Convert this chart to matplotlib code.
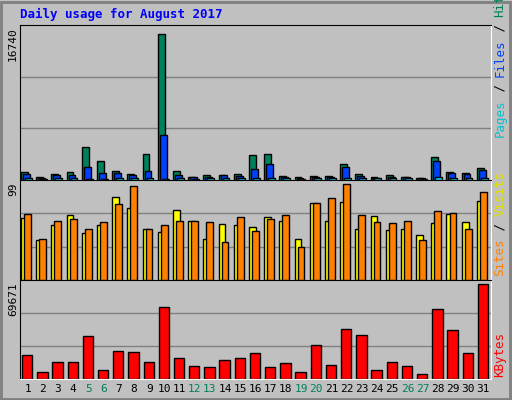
import matplotlib
matplotlib.use('Agg')
import matplotlib.pyplot as plt
import numpy as np

days = list(range(1, 32))
weekend = [5, 6, 12, 13, 19, 20, 26, 27]

hits = [947, 303, 720, 947, 3787, 2196, 1060, 720, 2992, 16740, 1060, 379, 606, 606, 720, 2878,
        2992, 492, 379, 492, 492, 1856, 720, 379, 606, 379, 265, 2651, 947, 833, 1401]
files = [682, 227, 568, 568, 1515, 833, 833, 568, 1060, 5150, 568, 303, 379, 606, 492, 1288,
         1856, 379, 265, 379, 379, 1515, 492, 265, 379, 379, 227, 2196, 833, 720, 1174]
pages = [190, 120, 190, 190, 150, 150, 190, 190, 190, 150, 190, 150, 190, 190, 190, 190,
         190, 190, 120, 190, 190, 190, 190, 190, 190, 190, 150, 380, 190, 190, 190]
visits = [64, 41, 57, 67, 48, 57, 85, 74, 53, 49, 72, 61, 42, 58, 57, 55,
          65, 61, 42, 79, 61, 80, 52, 66, 51, 53, 46, 59, 68, 60, 81]
sites = [68, 42, 61, 63, 53, 60, 78, 97, 52, 57, 61, 61, 60, 39, 65, 50,
         63, 67, 34, 79, 84, 99, 67, 60, 59, 61, 41, 71, 69, 53, 91]
kbytes = [17800, 4830, 12460, 12460, 31530, 6360, 20850, 20090, 12460, 52890, 15510, 9410, 8650,
          13990, 15510, 19330, 8650, 11700, 4830, 24670, 10170, 36870, 32300, 6360, 12460, 9410,
          3310, 51370, 36110, 19330, 69671]

W, H = 512, 400
bg = '#c0c0c0'
fig = plt.figure(figsize=(W / 100, H / 100), dpi=100, facecolor=bg)
mono = 'DejaVu Sans Mono'

# outer frame
fig.patches.append(plt.Rectangle((1 / W, 1 / H), 1 - 3 / W, 1 - 3 / H, transform=fig.transFigure,
                                 fill=False, edgecolor='#808080', lw=2))

def panel(top, bottom):
    ax = fig.add_axes([20 / W, 1 - bottom / H, (491 - 20) / W, (bottom - top) / H])
    ax.set_facecolor(bg)
    ax.set_xlim(0.5, 31.5)
    ax.set_xticks([])
    ax.set_yticks([])
    for s in ax.spines.values():
        s.set_color('black')
    ax.spines['right'].set_color('white')
    ax.spines['bottom'].set_color('white')
    return ax

x = np.array(days, dtype=float)
kw = dict(edgecolor='black', linewidth=1, align='edge')

# hits / files / pages
ax1 = panel(25, 180)
top1 = max(hits) * 1.06
ax1.set_ylim(0, top1)
for f in (1 / 3, 2 / 3):
    ax1.axhline(top1 * f, color='#808080', lw=1, zorder=0)
ax1.bar(x - 0.43, hits, 0.45, color='#00805c', **kw)
ax1.bar(x - 0.30, files, 0.45, color='#0040ff', **kw)
ax1.bar(x - 0.17, pages, 0.45, color='#00e0ff', **kw)
fig.text(8 / W, 1 - 27 / H, '16740', rotation=90, va='top', ha='left', fontsize=8, family=mono)

# visits / sites
ax2 = panel(180, 280)
top2 = max(sites) * 1.04
ax2.set_ylim(0, top2)
for f in (1 / 3, 2 / 3):
    ax2.axhline(top2 * f, color='#808080', lw=1, zorder=0)
ax2.bar(x - 0.43, visits, 0.45, color='#ffff00', **kw)
ax2.bar(x - 0.23, sites, 0.45, color='#ff8000', **kw)
fig.text(8 / W, 1 - 182 / H, '99', rotation=90, va='top', ha='left', fontsize=8, family=mono)

# kbytes
ax3 = panel(280, 379)
top3 = max(kbytes) * 1.04
ax3.set_ylim(0, top3)
for f in (1 / 3, 2 / 3):
    ax3.axhline(top3 * f, color='#808080', lw=1, zorder=0)
ax3.bar(x - 0.37, kbytes, 0.68, color='#ff0000', **kw)
fig.text(8 / W, 1 - 282 / H, '69671', rotation=90, va='top', ha='left', fontsize=8, family=mono)

# day labels
for d in days:
    xp = (20 + (d - 0.5) / 31 * 471) / W
    fig.text(xp, 1 - 389 / H, str(d), ha='center', va='center', fontsize=8, family=mono,
             color='#00805c' if d in weekend else 'black')

fig.text(20 / W, 1 - 14 / H, 'Daily usage for August 2017', color='#0000ff', fontsize=9,
         fontweight='bold', family=mono, va='center', ha='left')

# right side legends, drawn bottom to top
def side_label(parts, y_bottom):
    y = y_bottom
    step = 0.602 * 9 * 100 / 72
    for txt, col in parts:
        fig.text(500 / W, y / H, txt, rotation=90, color=col, fontsize=9, family=mono,
                 ha='center', va='bottom')
        y += len(txt) * step

side_label([('Pages', '#00c0d0'), (' / ', 'black'), ('Files', '#0040ff'), (' / ', 'black'),
            ('Hits', '#00805c')], H - 137)
side_label([('Sites', '#ff8000'), (' / ', 'black'), ('Visits', '#e0e000')], H - 276)
side_label([('KBytes', '#ff0000')], H - 377)

fig.savefig('out.png', dpi=100, facecolor=bg)
